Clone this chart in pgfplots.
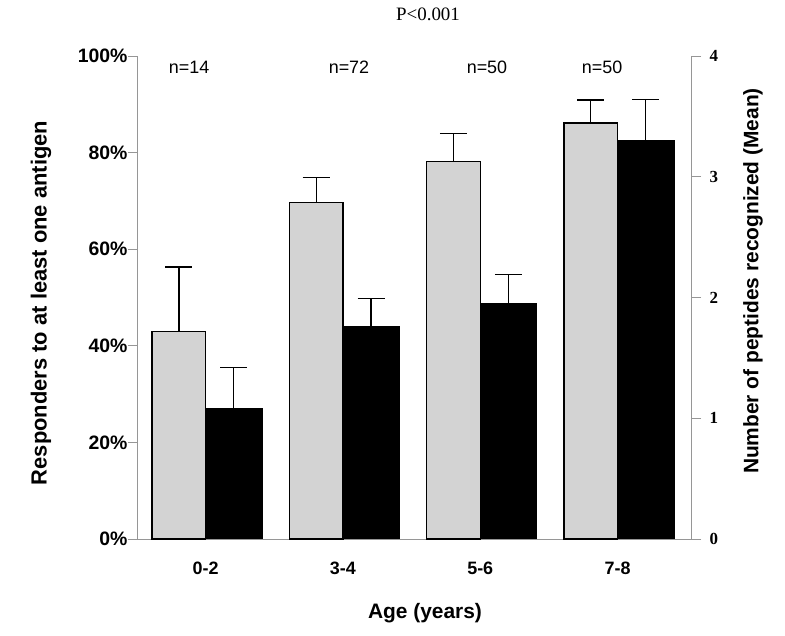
\documentclass[border=0pt]{standalone}
\usepackage{fontspec}
\setmainfont{Liberation Sans}
\newfontfamily\tms{Liberation Serif}
\usepackage{pgfplots}
\usepackage{pgfplotstable}
\pgfplotsset{compat=1.18}
\definecolor{barg}{RGB}{211,211,211}
\definecolor{axg}{RGB}{150,150,150}
\pgfplotstableread{
x y e
0 42.9 13.4
1 69.6 5.3
2 78.1 5.8
3 86.1 4.8
}\resp
\pgfplotstableread{
x y e
0 1.08 0.34
1 1.76 0.23
2 1.95 0.24
3 3.30 0.34
}\pept
\begin{document}
\begin{tikzpicture}[x=1bp,y=1bp]
\useasboundingbox (0,0) rectangle (785,636);
\begin{axis}[
  at={(137bp,97bp)}, anchor=south west,
  width=554bp, height=483bp, scale only axis,
  xmin=-0.5, xmax=3.535, ymin=0, ymax=100,
  axis x line*=bottom, axis y line*=left,
  axis line style={-, axg, line width=0.8bp},
  tick align=outside,
  xtick={0,1,2,3}, xticklabels={0-2,3-4,5-6,7-8},
  x tick style={draw=none},
  xticklabel style={font=\fontsize{18}{21}\selectfont\bfseries, yshift=-10bp},
  ytick={0,20,40,60,80,100},
  yticklabel={\pgfmathprintnumber{\tick}\%},
  /pgf/number format/assume math mode=true,
  yticklabel style={font=\fontsize{19.5}{22}\selectfont\bfseries, xshift=3bp},
  y tick style={axg, line width=0.8bp},
  major tick length=9bp,
  clip=false,
]
\addplot[ybar, bar width=0.39, bar shift=0, fill=barg, draw=black, line width=1.3bp,
  error bars/.cd, y dir=plus, y explicit,
  error bar style={black, line width=1.3bp},
  error mark options={black, line width=1.3bp, mark size=13.5bp, rotate=90}]
  table[x expr=\thisrow{x}-0.195, y=y, y error=e] {\resp};
\node[font=\fontsize{18}{21}\selectfont] at (axis cs:-0.121,97.7) {n=14};
\node[font=\fontsize{18}{21}\selectfont] at (axis cs:1.044,97.7) {n=72};
\node[font=\fontsize{18}{21}\selectfont] at (axis cs:2.049,97.7) {n=50};
\node[font=\fontsize{18}{21}\selectfont] at (axis cs:2.887,97.7) {n=50};
\end{axis}
\begin{axis}[
  at={(137bp,97bp)}, anchor=south west,
  width=554bp, height=483bp, scale only axis,
  xmin=-0.5, xmax=3.535, ymin=0, ymax=4,
  axis x line=none, axis y line*=right,
  axis line style={-, axg, line width=0.8bp},
  tick align=outside,
  ytick={0,1,2,3,4},
  /pgf/number format/assume math mode=true,
  yticklabel style={font=\fontsize{17}{19}\selectfont\tms\bfseries, xshift=5bp},
  y tick style={axg, line width=0.8bp},
  major tick length=10bp,
]
\addplot[ybar, bar width=0.41, bar shift=0, fill=black, draw=black, line width=0.5bp,
  error bars/.cd, y dir=plus, y explicit,
  error bar style={black, line width=1.3bp},
  error mark options={black, line width=1.3bp, mark size=13.5bp, rotate=90}]
  table[x expr=\thisrow{x}+0.205, y=y, y error=e] {\pept};
\end{axis}
\node[font=\fontsize{19}{22}\selectfont\tms] at (428,622) {P<0.001};
\node[font=\fontsize{21}{24}\selectfont\bfseries] at (425,23) {Age (years)};
\node[font=\fontsize{22}{25}\selectfont\bfseries, rotate=90] at (41,333) {Responders to at least one antigen};
\node[font=\fontsize{21}{25}\selectfont\bfseries, rotate=90] at (753,355) {Number of peptides recognized (Mean)};
\end{tikzpicture}
\end{document}
